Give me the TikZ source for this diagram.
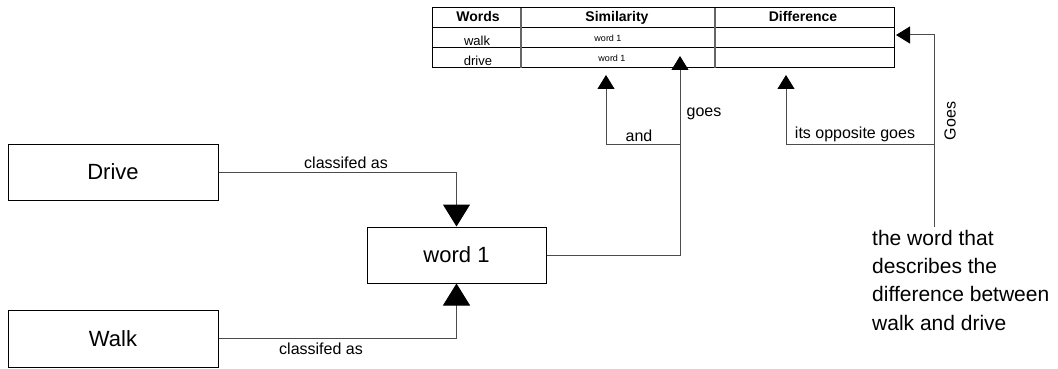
\documentclass[tikz,border=0pt]{standalone}
\usepackage{fontspec}
\setmainfont{Liberation Sans}
\usetikzlibrary{arrows.meta}

\tikzset{
  wordbox/.style={draw, line width=1pt, minimum width=179pt, minimum height=56pt, inner sep=0pt, font=\fontsize{22}{26}\selectfont},
  link/.style={draw=black!70, line width=1pt},
  bighead/.style={link, -{Triangle[length=22pt,width=27pt,color=black]}},
  smallhead/.style={link, -{Triangle[length=14pt,width=17pt,color=black]}},
  lbl/.style={font=\fontsize{16}{19}\selectfont, inner sep=0pt, anchor=base},
  headtext/.style={font=\fontsize{14}{16}\selectfont\bfseries, inner sep=0pt, anchor=base},
  celltext/.style={font=\fontsize{13}{15}\selectfont, inner sep=0pt, anchor=base},
  celltiny/.style={font=\fontsize{9}{11}\selectfont, inner sep=0pt, anchor=base}
}

\begin{document}
\begin{tikzpicture}[x=1pt,y=-1pt]
\useasboundingbox (0,0) rectangle (1058,369);

% table
\draw[line width=1pt] (432,8) rectangle (894,68);
\draw[line width=1pt] (432,28) -- (894,28);
\draw[line width=1pt] (432,48) -- (894,48);
\draw[draw=black!60, line width=1.3pt] (521,8) -- (521,68);
\draw[draw=black!60, line width=1.3pt] (715,8) -- (715,68);

\node[headtext] (hwords) at (478,22) {Words};
\node[headtext] (hsim) at (617,22) {Similarity};
\node[headtext] (hdiff) at (803,22) {Difference};
\node[celltext] (rwalk) at (477,46) {walk};
\node[celltext] (rdrive) at (478,66) {drive};
\node[celltiny] (swalk) at (608,42) {word 1};
\node[celltiny] (sdrive) at (612,62) {word 1};

% boxes
\node[wordbox, minimum width=210pt] (drive) at (113,172) {Drive};
\node[wordbox, minimum width=210pt, minimum height=57pt] (walk) at (113,338.5) {Walk};
\node[wordbox] (word) at (456.5,255) {word 1};

\draw[bighead] (drive.east) -| (word.north);
\draw[bighead] (walk.east) -| (word.south);
\node[lbl] (clsup) at (346,168) {classifed as};
\node[lbl] (clslow) at (321,354) {classifed as};

% into the table
\coordinate (simtip) at (680,56);
\coordinate (andtip) at (606,75);
\coordinate (opptip) at (786,75);
\coordinate (difftip) at (896,35);
\coordinate (andjoin) at (680,144);
\coordinate (oppjoin) at (934,144);
\coordinate (descend) at (934,227);

\draw[smallhead] (word.east) -| (simtip);
\draw[smallhead] (andjoin) -| (andtip);
\draw[smallhead] (descend) |- (difftip);
\draw[smallhead] (oppjoin) -| (opptip);

\node[lbl] (andlbl) at (639,141) {and};
\node[lbl] (goeslbl) at (704,116) {goes};
\node[lbl] (opplbl) at (855,139) {its opposite goes};
\node[lbl, anchor=center, rotate=90] (goesup) at (950,121) {Goes};

\node[align=left, anchor=base west, inner sep=0pt, font=\fontsize{21}{28.3}\selectfont] (desc) at (872,330) {the word that\\describes the\\difference between\\walk and drive};
\end{tikzpicture}
\end{document}
